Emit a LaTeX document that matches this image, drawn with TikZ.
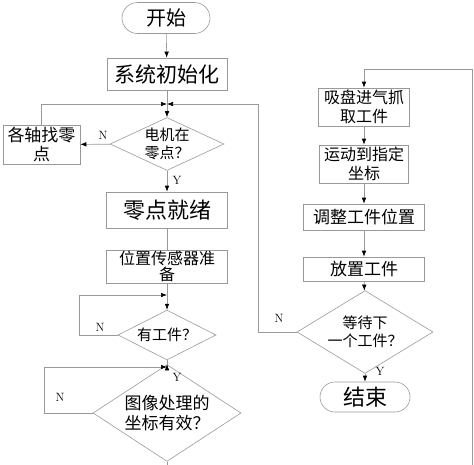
\documentclass[tikz,border=0pt]{standalone}
\usepackage{fontspec}
\newfontfamily\cjk{Noto Sans CJK SC}
\usetikzlibrary{shapes.geometric,shapes.misc,arrows.meta}
\begin{document}
\begin{tikzpicture}[x=1pt,y=-1pt]
            \tikzset{
                box/.style={draw=black!40,line width=0.6pt,rectangle,inner sep=0pt,align=center},
                term/.style={box,rounded rectangle},
                test/.style={box,diamond,inner sep=-6pt},
                fs/.style 2 args={font=\cjk\fontsize{#1}{#2}\selectfont},
                line/.style={draw=black!40,line width=0.6pt},
                arr/.style={line,-{Latex[length=6pt,width=4.5pt,color=black]}},
                lab/.style={font=\fontsize{12}{12}\selectfont,inner sep=0pt},}
            \useasboundingbox (0,0) rectangle (474,464);
            % left column
            \node[term,fs={20}{22},minimum width=88pt,minimum height=31pt] (start) at (166,18) {开始};
            \node[box,fs={21}{23},minimum width=120pt,minimum height=32pt] (init) at (167,74) {系统初始化};
            \node[test,fs={15}{18},minimum width=114pt,minimum height=52pt] (zerochk) at (167,144) {电机在\\零点？};
            \node[box,fs={17}{19},minimum width=77pt,minimum height=39pt] (homing) at (41.5,144.5) {各轴找零\\点};
            \node[box,fs={22}{24},minimum width=121pt,minimum height=36pt] (zerook) at (167,210) {零点就绪};
            \node[box,fs={16}{16},minimum width=121pt,minimum height=33pt] (sensor) at (167,266.5) {位置传感器准\\备};
            \node[test,fs={15}{18},minimum width=98pt,minimum height=44pt] (havepart) at (167,335) {有工件？};
            \node[test,fs={17}{20},minimum width=148pt,minimum height=63pt] (imgchk) at (167,413) {图像处理的\\坐标有效？};
            % right column
            \node[box,fs={16}{19},minimum width=91pt,minimum height=38pt] (pick) at (364,107) {吸盘进气抓\\取工件};
            \node[box,fs={16}{19},minimum width=89pt,minimum height=38pt] (move) at (364,164) {运动到指定\\坐标};
            \node[box,fs={17}{19},minimum width=121pt,minimum height=26pt] (adjust) at (364,217) {调整工件位置};
            \node[box,fs={17}{19},minimum width=121pt,minimum height=24pt] (place) at (364,269) {放置工件};
            \node[test,fs={15}{18},minimum width=136pt,minimum height=56pt] (waitchk) at (365,332) {等待下\\一个工件？};
            \node[term,fs={22}{24},minimum width=90pt,minimum height=30pt] (finish) at (365,397) {结束};
            % labels
            \node[lab] (n1) at (103,135) {N};
            \node[lab] (y1) at (177,180) {Y};
            \node[lab] (n2) at (100,327) {N};
            \node[lab] (y2) at (177,377) {Y};
            \node[lab] (n3) at (60,397) {N};
            \node[lab] (n4) at (279,318) {N};
            \node[lab] (y3) at (380,371) {Y};
            \coordinate (j1) at (167,104);
            \coordinate (j2) at (167,295);
            \coordinate (j3) at (167,367);
            \coordinate (r1) at (258,104);
            \coordinate (c1) at (472,69);
            % connectors
            \draw[arr] (start) -- (init);
            \draw[arr] (init) -- (zerochk);
            \draw[arr] (zerochk) -- (homing);
            \draw[arr] (homing.north) |- (j1);
            \draw[arr] (waitchk.west) -| (r1) -- (j1);
            \draw[arr] (zerochk) -- (zerook);
            \draw[line] (zerook) -- (sensor);
            \draw[line] (sensor) -- (j2);
            \draw[arr] (j2) -- (havepart);
            \draw[arr] (havepart.west) -- ++(-38,0) |- (j2);
            \draw[line] (havepart) -- (j3);
            \draw[arr] (j3) -- (imgchk);
            \draw[arr] (imgchk.west) -- ++(-48,0) |- (j3);
            \draw[arr] (imgchk.south) -- ++(0,17) -| (c1) -| (pick.north);
            \draw[arr] (pick) -- (move);
            \draw[arr] (move) -- (adjust);
            \draw[arr] (adjust) -- (place);
            \draw[arr] (place) -- (waitchk);
            \draw[arr] (waitchk) -- (finish);
        \end{tikzpicture}
\end{document}
